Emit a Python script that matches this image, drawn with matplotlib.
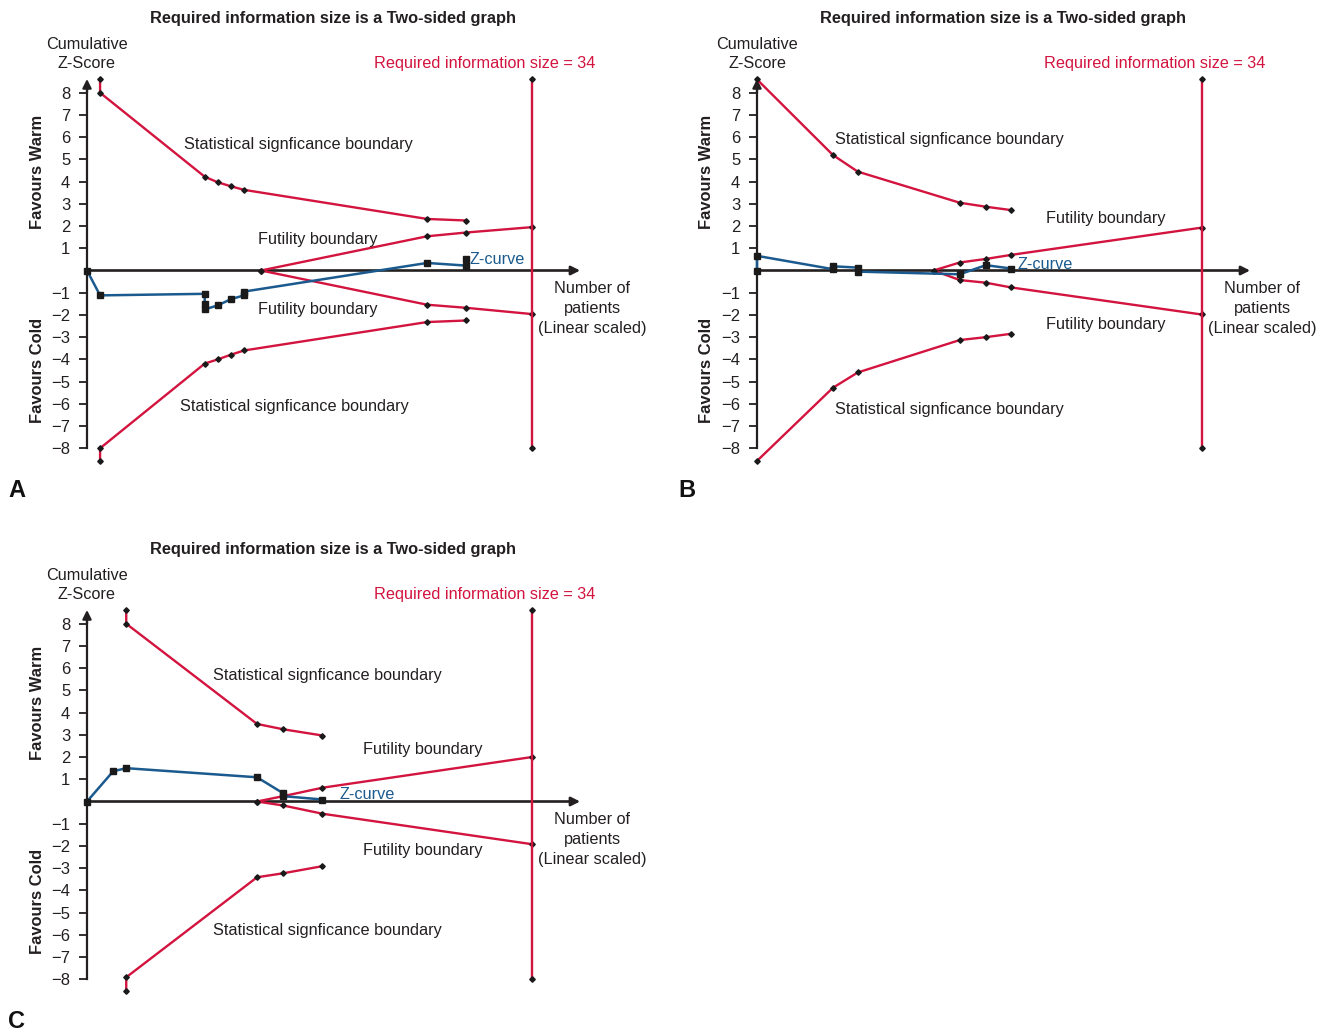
import matplotlib
matplotlib.use("Agg")
import matplotlib.pyplot as plt

plt.rcParams['font.family'] = ['Liberation Sans', 'DejaVu Sans']

W, H = 1325, 1032
RED = '#d2143f'
BLUE = '#1b5a8e'
AXC = '#231f20'
MK = '#1a1a1a'

# ---------------- data ----------------
ris = 34
ris_top, ris_bottom = 8.6, -8.0
ytick_vals = [-8, -7, -6, -5, -4, -3, -2, -1, 1, 2, 3, 4, 5, 6, 7, 8]
ytick_labels = ['\u22128', '\u22127', '\u22126', '\u22125', '\u22124', '\u22123', '\u22122', '\u22121',
                '1', '2', '3', '4', '5', '6', '7', '8']

# Panel A
a_sig_x = [1, 1, 9, 10, 11, 12, 26, 29]
a_sig_upper = [8.6, 8.0, 4.22, 3.97, 3.79, 3.63, 2.32, 2.25]
a_sig_lower = [-8.57, -8.0, -4.19, -4.0, -3.79, -3.6, -2.32, -2.25]
a_fut_x = [13.3, 26, 29, 34]
a_fut_upper = [0, 1.54, 1.71, 1.95]
a_fut_lower = [0, -1.54, -1.68, -1.96]
a_z_x = [0, 1, 9, 9, 9, 10, 11, 12, 12, 26, 29, 29]
a_z_y = [0, -1.12, -1.05, -1.53, -1.75, -1.57, -1.29, -1.12, -0.95, 0.34, 0.22, 0.5]

# Panel B
b_sig_x = [0, 5.8, 7.7, 15.5, 17.5, 19.4]
b_sig_upper = [8.6, 5.2, 4.45, 3.05, 2.87, 2.72]
b_sig_lower = [-8.57, -5.28, -4.59, -3.13, -3.0, -2.85]
b_fut_x = [13.5, 15.5, 17.5, 19.4, 34]
b_fut_upper = [0, 0.36, 0.52, 0.7, 1.93]
b_fut_lower = [0, -0.43, -0.55, -0.76, -1.98]
b_z_x = [0, 0, 5.8, 5.8, 7.7, 7.7, 15.5, 17.5, 19.4]
b_z_y = [0, 0.66, 0.06, 0.19, 0.13, -0.05, -0.17, 0.24, 0.09]

# Panel C
c_sig_x = [3, 3, 13, 15, 18]
c_sig_upper = [8.6, 8.0, 3.49, 3.25, 2.97]
c_sig_lower = [-8.51, -7.91, -3.41, -3.23, -2.91]
c_fut_x = [13, 15, 18, 34]
c_fut_upper = [0, 0.24, 0.62, 2.0]
c_fut_lower = [0, -0.18, -0.55, -1.92]
c_z_x = [0, 2, 3, 13, 15, 15, 18]
c_z_y = [0, 1.36, 1.5, 1.09, 0.37, 0.24, 0.09]

panels = [
    dict(letter='A', ox=0, oy=0, sig_x=a_sig_x, sig_u=a_sig_upper, sig_l=a_sig_lower,
         fut_x=a_fut_x, fut_u=a_fut_upper, fut_l=a_fut_lower, z_x=a_z_x, z_y=a_z_y,
         sig_u_lab=(298, 143), sig_l_lab=(294, 405), fut_u_lab=(318, 238), fut_l_lab=(318, 308),
         z_lab=(470, 258)),
    dict(letter='B', ox=670, oy=0, sig_x=b_sig_x, sig_u=b_sig_upper, sig_l=b_sig_lower,
         fut_x=b_fut_x, fut_u=b_fut_upper, fut_l=b_fut_lower, z_x=b_z_x, z_y=b_z_y,
         sig_u_lab=(279, 138), sig_l_lab=(279, 408), fut_u_lab=(436, 217), fut_l_lab=(436, 323),
         z_lab=(348, 263)),
    dict(letter='C', ox=0, oy=531, sig_x=c_sig_x, sig_u=c_sig_upper, sig_l=c_sig_lower,
         fut_x=c_fut_x, fut_u=c_fut_upper, fut_l=c_fut_lower, z_x=c_z_x, z_y=c_z_y,
         sig_u_lab=(327, 143), sig_l_lab=(327, 398), fut_u_lab=(423, 217), fut_l_lab=(423, 318),
         z_lab=(339, 262)),
]

fig = plt.figure(figsize=(W / 100, H / 100), dpi=100)
fig.patch.set_facecolor('white')

FS = 11.7
SX, SY = 13.08, 22.22
DY = 1.5


def ptext(x, y, s, **kw):
    kw.setdefault('va', 'center')
    kw.setdefault('ha', 'center')
    kw.setdefault('fontsize', FS)
    kw.setdefault('color', AXC)
    fig.text(x / W, 1 - (y + DY) / H, s, **kw)


for p in panels:
    ox, oy = p['ox'], p['oy']
    x0, y0 = ox + 87, oy + 270.5
    lpx, rpx, tpx, bpx = ox, ox + 655, oy, oy + 500
    ax = fig.add_axes([lpx / W, 1 - bpx / H, (rpx - lpx) / W, (bpx - tpx) / H])
    ax.set_xlim((lpx - x0) / SX, (rpx - x0) / SX)
    ax.set_ylim((y0 - bpx) / SY, (y0 - tpx) / SY)
    ax.patch.set_alpha(0)
    for s in ['top', 'right', 'bottom']:
        ax.spines[s].set_visible(False)
    ax.spines['left'].set_position(('data', 0))
    ax.spines['left'].set_bounds(-8, 8.3)
    ax.spines['left'].set_linewidth(1.6)
    ax.spines['left'].set_color(AXC)
    ax.set_xticks([])
    ax.set_yticks(ytick_vals)
    ax.set_yticklabels(ytick_labels)
    ax.tick_params(axis='y', direction='out', length=6, width=1.3, color=AXC,
                   labelsize=12, labelcolor=AXC, pad=6)

    # axis arrows
    ax.annotate('', xy=(0, 8.62), xytext=(0, 8.0),
                arrowprops=dict(arrowstyle='-|>', lw=1.6, color=AXC, mutation_scale=13,
                                shrinkA=0, shrinkB=0))
    ax.annotate('', xy=(37.7, 0), xytext=(0, 0),
                arrowprops=dict(arrowstyle='-|>', lw=1.9, color=AXC, mutation_scale=13,
                                shrinkA=0, shrinkB=0), zorder=2)

    mk = dict(marker='D', ms=2.8, mfc=MK, mec=MK)
    # significance boundaries
    ax.plot(p['sig_x'], p['sig_u'], color=RED, lw=1.7, zorder=3, **mk)
    ax.plot(p['sig_x'], p['sig_l'], color=RED, lw=1.7, zorder=3, **mk)
    # futility boundaries
    ax.plot(p['fut_x'], p['fut_u'], color=RED, lw=1.7, zorder=3, **mk)
    ax.plot(p['fut_x'], p['fut_l'], color=RED, lw=1.7, zorder=3, **mk)
    # required information size line
    ax.plot([ris, ris], [ris_bottom, ris_top], color=RED, lw=1.7, zorder=3, **mk)
    # Z-curve
    ax.plot(p['z_x'], p['z_y'], color=BLUE, lw=1.8, zorder=4,
            marker='s', ms=3.7, mfc=MK, mec=MK)

    # texts
    ptext(ox + 333, oy + 17, 'Required information size is a Two-sided graph', fontweight='bold',
          fontsize=11.8)
    ptext(ox + 87, oy + 43, 'Cumulative')
    ptext(ox + 87, oy + 62, 'Z-Score')
    ptext(ox + 485, oy + 62, 'Required information size = 34', color=RED)
    ptext(ox + 37, oy + 170, 'Favours Warm', rotation=90, fontweight='bold', fontsize=11.9)
    ptext(ox + 37, oy + 369, 'Favours Cold', rotation=90, fontweight='bold', fontsize=11.9)
    ptext(ox + p['sig_u_lab'][0], oy + p['sig_u_lab'][1], 'Statistical signficance boundary')
    ptext(ox + p['sig_l_lab'][0], oy + p['sig_l_lab'][1], 'Statistical signficance boundary')
    ptext(ox + p['fut_u_lab'][0], oy + p['fut_u_lab'][1], 'Futility boundary')
    ptext(ox + p['fut_l_lab'][0], oy + p['fut_l_lab'][1], 'Futility boundary')
    ptext(ox + p['z_lab'][0], oy + p['z_lab'][1], 'Z-curve', ha='left', color=BLUE)
    ptext(ox + 592, oy + 287, 'Number of')
    ptext(ox + 592, oy + 307, 'patients')
    ptext(ox + 592, oy + 327, '(Linear scaled)')
    ptext(ox + 8, oy + 489, p['letter'], ha='left', fontweight='bold', fontsize=17, color='#111111')

fig.savefig('out.png', dpi=100, facecolor='white')
